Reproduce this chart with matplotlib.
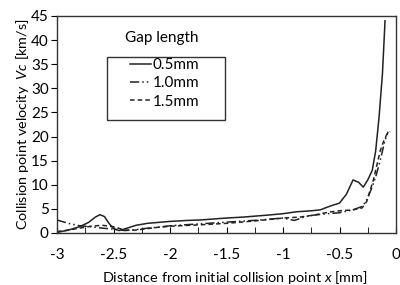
import matplotlib
matplotlib.use('agg')
import matplotlib.pyplot as plt
from matplotlib.patches import Rectangle

plt.rcParams['font.family'] = ['Lato', 'DejaVu Sans']
plt.rcParams['mathtext.fontset'] = 'custom'
plt.rcParams['mathtext.it'] = 'Lato:italic'
plt.rcParams['mathtext.rm'] = 'Lato'

# gap 0.5 mm
x05 = [-3.0, -2.9, -2.8, -2.72, -2.66, -2.62, -2.58, -2.54, -2.5, -2.45, -2.38, -2.3,
       -2.2, -2.1, -2.0, -1.85, -1.73, -1.5, -1.35, -1.14, -1.0, -0.88, -0.75, -0.67,
       -0.58, -0.5, -0.44, -0.38, -0.33, -0.29, -0.25, -0.21, -0.18, -0.15, -0.12, -0.097]
v05 = [0.1, 0.6, 1.3, 2.2, 3.3, 3.8, 3.4, 2.0, 0.9, 0.5, 1.0, 1.6,
       2.0, 2.2, 2.4, 2.6, 2.7, 3.1, 3.3, 3.7, 4.0, 4.4, 4.6, 4.8,
       5.6, 6.2, 8.0, 11.0, 10.5, 9.5, 11.0, 13.0, 17.0, 24.0, 33.0, 44.0]

# gap 1.0 mm
x10 = [-3.0, -2.9, -2.8, -2.7, -2.6, -2.5, -2.4, -2.3, -2.2, -2.1, -2.0, -1.8,
       -1.6, -1.4, -1.2, -1.0, -0.9, -0.8, -0.73, -0.6, -0.5, -0.38, -0.3, -0.26,
       -0.22, -0.18, -0.14, -0.1, -0.07]
v10 = [2.7, 2.0, 1.5, 1.3, 1.0, 0.8, 0.5, 0.7, 1.0, 1.2, 1.5, 1.8,
       2.1, 2.4, 2.7, 3.1, 2.6, 3.4, 3.7, 4.0, 4.2, 4.8, 5.5, 6.8,
       9.0, 11.6, 15.0, 19.0, 21.0]

# gap 1.5 mm
x15 = [-3.0, -2.9, -2.8, -2.7, -2.6, -2.5, -2.4, -2.3, -2.2, -2.1, -2.0, -1.73,
       -1.5, -1.25, -1.0, -0.85, -0.73, -0.6, -0.5, -0.38, -0.3, -0.26, -0.2, -0.14,
       -0.11, -0.08, -0.05]
v15 = [0.3, 0.6, 1.0, 1.4, 1.6, 1.3, 0.6, 0.6, 0.9, 1.2, 1.4, 1.7,
       2.0, 2.5, 3.1, 3.3, 3.7, 4.3, 4.6, 4.8, 5.2, 6.5, 11.0, 17.0,
       19.0, 20.5, 21.0]

fs = 11

fig = plt.figure(figsize=(4, 2.85), dpi=100)
ax = fig.add_axes([0.1425, 0.1825, 0.8475, 0.7615])

ax.plot(x05, v05, color='#222222', lw=1.1, ls='-', label='0.5mm')
ax.plot(x10, v10, color='#222222', lw=1.1, ls=(0, (6, 2, 1, 2, 1, 2)), label='1.0mm')
ax.plot(x15, v15, color='#222222', lw=1.1, ls=(0, (3, 2)), label='1.5mm')

ax.set_xlim(-3, 0)
ax.set_ylim(0, 45)
ax.set_xticks([-3, -2.5, -2, -1.5, -1, -0.5, 0])
ax.set_xticklabels(['-3', '-2.5', '-2', '-1.5', '-1', '-0.5', '0'])
ax.set_xticks([-2.75, -2.25, -1.75, -1.25, -0.75, -0.25], minor=True)
ax.set_yticks(range(0, 50, 5))
ax.tick_params(axis='x', which='both', direction='in', length=4, labelsize=fs, pad=11)
ax.tick_params(axis='y', direction='out', length=4, labelsize=fs, pad=2)
for s in ax.spines.values():
    s.set_color('#333333')
    s.set_linewidth(1.0)

ax.set_xlabel(r'Distance from initial collision point $x$ [mm]', fontsize=10.4)
ax.xaxis.set_label_coords(0.525, -0.165)
ax.set_ylabel(r'Collision point velocity  $Vc$ [km/s]', fontsize=10.4, labelpad=0)

# legend: title sits above a wide box
ax.text(-2.4, 40.4, 'Gap length', fontsize=fs, ha='left', va='center')
leg = ax.legend(loc='upper left', bbox_to_anchor=(0.205, 0.82), fontsize=fs,
                frameon=False, handlelength=1.4, handletextpad=0.1,
                borderpad=0.2, labelspacing=0.28, borderaxespad=0)
ax.add_patch(Rectangle((0.1475, 0.522), 0.348, 0.289, transform=ax.transAxes,
                       fill=False, edgecolor='#333333', lw=1.0, zorder=5))

fig.savefig('out.png', dpi=100)
